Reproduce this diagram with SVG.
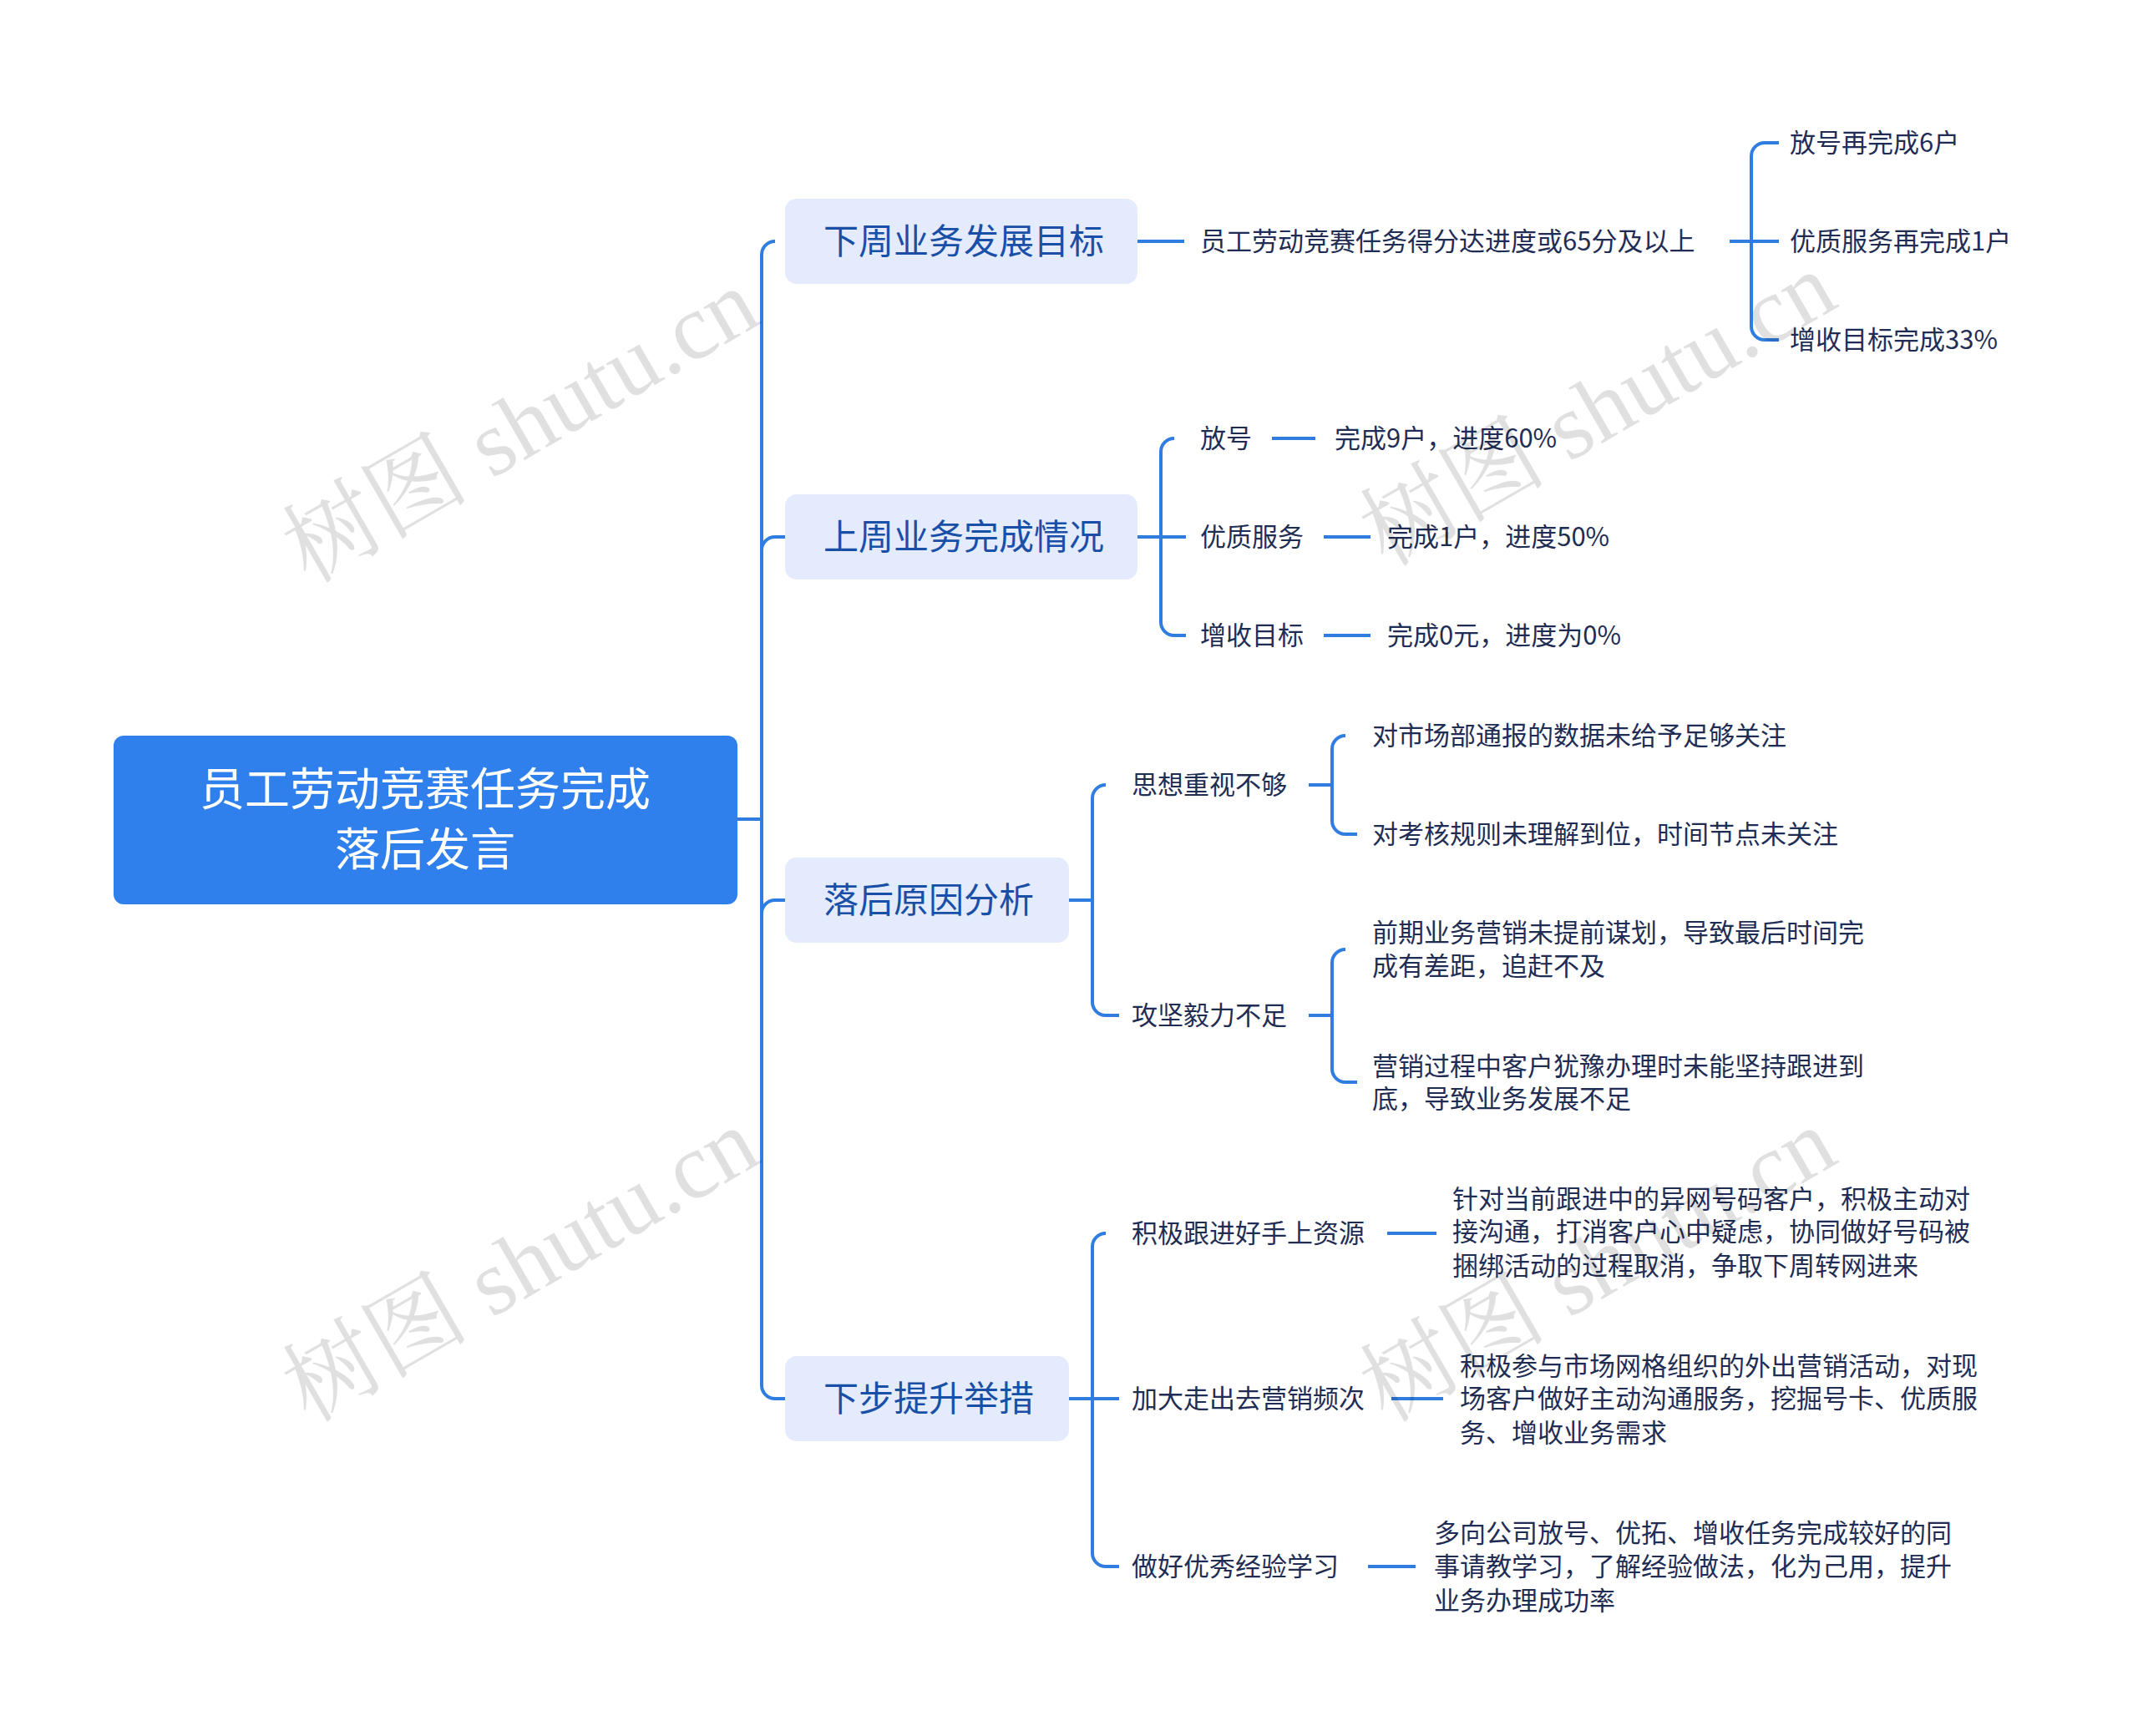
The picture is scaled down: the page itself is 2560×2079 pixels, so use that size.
<svg xmlns="http://www.w3.org/2000/svg" width="2560" height="2079" viewBox="0 0 2560 2079">
<style>
.c{fill:none;stroke:#2f7de1;stroke-width:4}
.l1{fill:#e3ebfc}
.t1{font-family:"Noto Sans CJK SC",sans-serif;font-size:42px;fill:#1a4fa8}
.t2{font-family:"Noto Sans CJK SC",sans-serif;font-size:31px;fill:#1f2d55}
.wm{font-family:"Liberation Serif","Noto Serif CJK SC","Noto Sans CJK SC",serif;font-size:112px;fill:#000;fill-opacity:0.12}
</style>
<rect width="2560" height="2079" fill="#fff"/>
<g id="connectors">
<path class="c" d="M883 981H912M928 289a16 16 0 0 0-16 16V1659a16 16 0 0 0 16 16H940M912 305V643h-0M912 659a16 16 0 0 1 16-16H940M912 1094a16 16 0 0 1 16-16H940"/>
<path class="c" d="M1362 289H1418M2071 289H2097M2113 171a16 16 0 0 0-16 16V391a16 16 0 0 0 16 16H2130M2097 289H2130M2113 171H2130"/>
<path class="c" d="M1362 643H1390M1406 525a16 16 0 0 0-16 16V745a16 16 0 0 0 16 16H1420M1390 643H1420M1523 525H1575M1585 643H1641M1585 761H1641"/>
<path class="c" d="M1280 1078H1308M1324 940a16 16 0 0 0-16 16V1200a16 16 0 0 0 16 16H1340"/>
<path class="c" d="M1567 940H1595M1611 881a16 16 0 0 0-16 16V983a16 16 0 0 0 16 16H1625M1567 1216H1595M1611 1137a16 16 0 0 0-16 16V1280a16 16 0 0 0 16 16H1625"/>
<path class="c" d="M1280 1675H1308M1324 1477a16 16 0 0 0-16 16V1860a16 16 0 0 0 16 16H1340M1308 1675H1340M1661 1477H1720M1666 1675H1728M1638 1876H1695"/>
</g>
<g id="root"><rect x="136" y="881" width="747" height="202" rx="12" fill="#2f80ed"/>
<text x="509" y="965" text-anchor="middle" font-family="Noto Sans CJK SC,sans-serif" font-size="54" fill="#fff">员工劳动竞赛任务完成</text>
<text x="509" y="1037" text-anchor="middle" font-family="Noto Sans CJK SC,sans-serif" font-size="54" fill="#fff">落后发言</text></g>
<g id="n1"><rect class="l1" x="940" y="238" width="422" height="102" rx="14"/><text class="t1" x="986" y="304">下周业务发展目标</text></g>
<g id="n2"><rect class="l1" x="940" y="592" width="422" height="102" rx="14"/><text class="t1" x="986" y="658">上周业务完成情况</text></g>
<g id="n3"><rect class="l1" x="940" y="1027" width="340" height="102" rx="14"/><text class="t1" x="986" y="1093">落后原因分析</text></g>
<g id="n4"><rect class="l1" x="940" y="1624" width="340" height="102" rx="14"/><text class="t1" x="986" y="1690">下步提升举措</text></g>
<g id="leaves">
<text class="t2" x="1437" y="300">员工劳动竞赛任务得分达进度或65分及以上</text>
<text class="t2" x="2143" y="182">放号再完成6户</text>
<text class="t2" x="2143" y="300">优质服务再完成1户</text>
<text class="t2" x="2143" y="418">增收目标完成33%</text>
<text class="t2" x="1437" y="536">放号</text><text class="t2" x="1598" y="536">完成9户，进度60%</text>
<text class="t2" x="1437" y="654">优质服务</text><text class="t2" x="1661" y="654">完成1户，进度50%</text>
<text class="t2" x="1437" y="772">增收目标</text><text class="t2" x="1661" y="772">完成0元，进度为0%</text>
<text class="t2" x="1355" y="951">思想重视不够</text>
<text class="t2" x="1643" y="892">对市场部通报的数据未给予足够关注</text>
<text class="t2" x="1643" y="1010">对考核规则未理解到位，时间节点未关注</text>
<text class="t2" x="1355" y="1227">攻坚毅力不足</text>
<text class="t2" x="1643" y="1128">前期业务营销未提前谋划，导致最后时间完</text>
<text class="t2" x="1643" y="1168">成有差距，追赶不及</text>
<text class="t2" x="1643" y="1288">营销过程中客户犹豫办理时未能坚持跟进到</text>
<text class="t2" x="1643" y="1327">底，导致业务发展不足</text>
<text class="t2" x="1355" y="1488">积极跟进好手上资源</text>
<text class="t2" x="1739" y="1447">针对当前跟进中的异网号码客户，积极主动对</text>
<text class="t2" x="1739" y="1486">接沟通，打消客户心中疑虑，协同做好号码被</text>
<text class="t2" x="1739" y="1527">捆绑活动的过程取消，争取下周转网进来</text>
<text class="t2" x="1355" y="1686">加大走出去营销频次</text>
<text class="t2" x="1748" y="1647">积极参与市场网格组织的外出营销活动，对现</text>
<text class="t2" x="1748" y="1686">场客户做好主动沟通服务，挖掘号卡、优质服</text>
<text class="t2" x="1748" y="1727">务、增收业务需求</text>
<text class="t2" x="1355" y="1887">做好优秀经验学习</text>
<text class="t2" x="1717" y="1847">多向公司放号、优拓、增收任务完成较好的同</text>
<text class="t2" x="1717" y="1887">事请教学习，了解经验做法，化为己用，提升</text>
<text class="t2" x="1717" y="1928">业务办理成功率</text>
</g>
<g id="watermarks">
<text class="wm" transform="translate(370 700) rotate(-30)">树图 shutu.cn</text>
<text class="wm" transform="translate(370 1705) rotate(-30)">树图 shutu.cn</text>
<text class="wm" transform="translate(1660 680) rotate(-30)">树图 shutu.cn</text>
<text class="wm" transform="translate(1660 1705) rotate(-30)">树图 shutu.cn</text>
</g>
</svg>
